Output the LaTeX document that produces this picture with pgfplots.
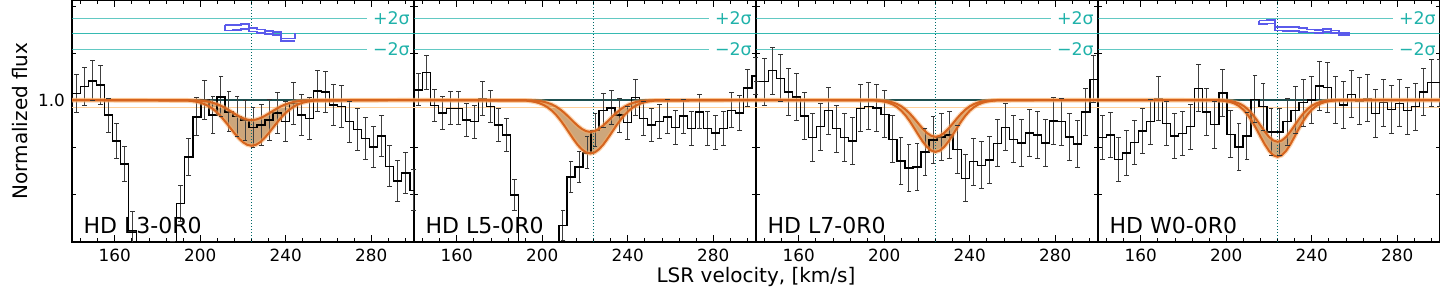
\documentclass[border=0pt]{standalone}
\usepackage{fontspec}
\setmainfont{DejaVu Sans}
\usepackage{pgfplots}
\pgfplotsset{compat=1.18}
\usepackage{pgfplotstable}
\usepgfplotslibrary{fillbetween}

\definecolor{orD}{RGB}{214,100,30}
\definecolor{orL}{RGB}{250,175,105}
\definecolor{tanF}{RGB}{196,150,100}
\definecolor{pale}{RGB}{255,208,155}
\definecolor{tealD}{RGB}{30,80,80}
\definecolor{vlin}{RGB}{0,105,105}
\definecolor{sig}{RGB}{32,178,170}
\definecolor{res}{RGB}{90,90,235}

% ---------- histograms: bin centre, flux, error ----------
\pgfplotstableread{
x y e
138.24 1.028 0
142.00 1.028 0.080
145.76 1.057 0.082
149.52 1.082 0.085
153.28 1.064 0.083
157.04 0.936 0.072
160.80 0.827 0.075
164.56 0.728 0.075
168.32 0.447 0.078
172.08 0.30 0.07
175.84 0.28 0.07
179.60 0.28 0.07
183.36 0.30 0.07
187.12 0.33 0.07
190.88 0.560 0.075
194.64 0.759 0.078
198.40 0.929 0.080
202.16 1.000 0.082
205.92 0.936 0.080
209.68 1.014 0.085
213.44 0.950 0.085
217.20 0.930 0.085
220.96 0.915 0.085
224.72 0.884 0.085
228.48 0.894 0.087
232.24 0.915 0.086
236.00 0.946 0.087
239.76 0.908 0.086
243.52 0.986 0.088
247.28 0.936 0.087
251.04 0.922 0.088
254.80 1.038 0.088
258.56 1.035 0.088
262.32 0.979 0.088
266.08 0.972 0.088
269.84 0.908 0.087
273.60 0.875 0.088
277.36 0.837 0.088
281.12 0.801 0.088
284.88 0.848 0.088
288.64 0.719 0.088
292.40 0.657 0.088
296.16 0.691 0.088
299.92 0.617 0.088
303.68 0.617 0
}\histA

\pgfplotstableread{
x y e
138.24 1.043 0
142.00 1.043 0.068
145.76 1.118 0.072
149.52 0.976 0.068
153.28 0.946 0.070
157.04 0.965 0.070
160.80 0.965 0.070
164.56 0.915 0.070
168.32 0.908 0.070
172.08 1.007 0.072
175.84 0.972 0.068
179.60 0.894 0.070
183.36 0.851 0.070
187.12 0.596 0.067
190.88 0.30 0.065
194.64 0.25 0.065
198.40 0.25 0.065
202.16 0.25 0.065
205.92 0.30 0.065
209.68 0.468 0.064
213.44 0.674 0.066
217.20 0.716 0.066
220.96 0.776 0.068
224.72 0.872 0.070
228.48 0.955 0.072
232.24 0.967 0.072
236.00 0.936 0.072
239.76 0.904 0.070
243.52 1.011 0.075
247.28 0.922 0.072
251.04 0.894 0.072
254.80 0.908 0.072
258.56 0.929 0.072
262.32 0.884 0.072
266.08 0.932 0.072
269.84 0.879 0.072
273.60 0.950 0.072
277.36 0.879 0.072
281.12 0.861 0.072
284.88 0.879 0.072
288.64 0.957 0.075
292.40 0.946 0.075
296.16 1.052 0.078
299.92 1.102 0.078
303.68 1.102 0
}\histB

\pgfplotstableread{
x y e
140.12 1.078 0
143.88 1.078 0.10
147.64 1.125 0.10
151.40 1.092 0.10
155.16 1.035 0.10
158.92 1.014 0.10
162.68 0.932 0.10
166.44 0.841 0.10
170.20 0.887 0.10
173.96 0.955 0.10
177.72 0.879 0.10
181.48 0.841 0.10
185.24 0.827 0.10
189.00 0.965 0.10
192.76 0.974 0.10
196.52 0.967 0.10
200.28 0.940 0.10
204.04 0.833 0.10
207.80 0.742 0.10
211.56 0.712 0.10
215.32 0.716 0.10
219.08 0.780 0.10
222.84 0.830 0.10
226.60 0.844 0.10
230.36 0.851 0.10
234.12 0.790 0.10
237.88 0.667 0.10
241.64 0.738 0.10
245.40 0.723 0.10
249.16 0.745 0.10
252.92 0.816 0.10
256.68 0.884 0.10
260.44 0.833 0.10
264.20 0.818 0.10
267.96 0.861 0.10
271.72 0.851 0.10
275.48 0.818 0.10
279.24 0.912 0.10
283.00 0.908 0.10
286.76 0.844 0.10
290.52 0.813 0.10
294.28 0.950 0.10
298.04 1.088 0.10
301.80 1.120 0
}\histC

\pgfplotstableread{
x y e
138.24 0.841 0
142.00 0.841 0.095
145.76 0.851 0.095
149.52 0.748 0.095
153.28 0.776 0.095
157.04 0.820 0.095
160.80 0.868 0.095
164.56 0.908 0.095
168.32 1.007 0.095
172.08 0.901 0.095
175.84 0.847 0.095
179.60 0.858 0.095
183.36 0.887 0.095
187.12 1.050 0.100
190.88 0.950 0.100
194.64 0.896 0.100
198.40 1.031 0.100
202.16 0.855 0.100
205.92 0.801 0.100
209.68 0.847 0.100
213.44 1.003 0.100
217.20 0.972 0.100
220.96 0.865 0.100
224.72 0.865 0.100
228.48 0.908 0.100
232.24 0.957 0.100
236.00 0.989 0.100
239.76 1.000 0.100
243.52 1.060 0.105
247.28 1.054 0.105
251.04 1.000 0.100
254.80 0.979 0.100
258.56 1.024 0.100
262.32 0.997 0.100
266.08 1.007 0.100
269.84 0.943 0.100
273.60 0.989 0.100
277.36 0.960 0.100
281.12 0.986 0.100
284.88 0.955 0.100
288.64 0.972 0.100
292.40 1.035 0.100
296.16 1.074 0.100
299.92 1.074 0.100
303.68 1.074 0
}\histD

% ---------- model band: velocity, upper, lower ----------
\pgfplotstableread{
x u l
140 1 1
194 .9997 .9978
196 .9993 .9962
198 .9987 .9934
200 .9976 .9891
202 .9957 .9828
204 .9928 .9738
206 .9885 .9616
208 .9825 .9461
210 .9747 .9272
212 .9651 .9056
214 .9542 .8823
216 .9427 .8591
218 .9319 .8380
220 .9230 .8209
222 .9171 .8098
224 .915 .806
226 .9171 .8098
228 .9230 .8209
230 .9319 .8380
232 .9427 .8591
234 .9542 .8823
236 .9651 .9056
238 .9747 .9272
240 .9825 .9461
242 .9885 .9616
244 .9928 .9738
246 .9957 .9828
248 .9976 .9891
250 .9987 .9934
252 .9993 .9962
254 .9997 .9978
300 1 1
}\modA

\pgfplotstableread{
x u l
140 1 1
192.5 .9995 .9975
194.5 .9989 .9955
196.5 .9979 .9923
198.5 .9961 .9873
200.5 .9932 .9798
202.5 .9886 .9693
204.5 .9817 .9551
206.5 .9722 .9369
208.5 .9597 .9148
210.5 .9445 .8895
212.5 .9272 .8623
214.5 .9091 .8352
216.5 .8919 .8104
218.5 .8777 .7905
220.5 .8683 .7775
222.5 .865 .773
224.5 .8683 .7775
226.5 .8777 .7905
228.5 .8919 .8104
230.5 .9091 .8352
232.5 .9272 .8623
234.5 .9445 .8895
236.5 .9597 .9148
238.5 .9722 .9369
240.5 .9817 .9551
242.5 .9886 .9693
244.5 .9932 .9798
246.5 .9961 .9873
248.5 .9979 .9923
250.5 .9989 .9955
252.5 .9995 .9975
300 1 1
}\modB

\pgfplotstableread{
x u l
140 1 1
194 .9997 .9991
196 .9993 .9983
198 .9985 .9966
200 .9971 .9937
202 .9945 .9889
204 .9902 .9814
206 .9834 .9702
208 .9735 .9547
210 .9598 .9344
212 .9424 .9096
214 .9219 .8813
216 .8998 .8518
218 .8784 .8238
220 .8603 .8007
222 .8483 .7854
224 .844 .780
226 .8483 .7854
228 .8603 .8007
230 .8784 .8238
232 .8998 .8518
234 .9219 .8813
236 .9424 .9096
238 .9598 .9344
240 .9735 .9547
242 .9834 .9702
244 .9902 .9814
246 .9945 .9889
248 .9971 .9937
250 .9985 .9966
252 .9993 .9983
254 .9997 .9991
300 1 1
}\modC

\pgfplotstableread{
x u l
140 1 1
194 .9998 .9995
196 .9996 .9989
198 .9991 .9978
200 .9980 .9955
202 .9960 .9915
204 .9922 .9849
206 .9859 .9744
208 .9761 .9590
210 .9617 .9379
212 .9425 .9110
214 .9190 .8794
216 .8926 .8452
218 .8664 .8121
220 .8438 .7843
222 .8285 .7656
224 .823 .759
226 .8285 .7656
228 .8438 .7843
230 .8664 .8121
232 .8926 .8452
234 .9190 .8794
236 .9425 .9110
238 .9617 .9379
240 .9761 .9590
242 .9859 .9744
244 .9922 .9849
246 .9960 .9915
248 .9980 .9955
250 .9991 .9978
252 .9996 .9989
254 .9998 .9995
300 1 1
}\modD

\pgfplotsset{
  panel/.style={
    scale only axis, width=171pt, height=121pt,
    xmin=140, xmax=300, ymin=0.397, ymax=1.4255,
    xtick={160,200,240,280},
    minor xtick={144,152,...,296},
    ytick={1.0}, minor ytick={0.4,0.6,0.8,1.2,1.4},
    yticklabels={},
    tick align=inside,
    xtick pos=both, ytick pos=both,
    xticklabel pos=lower, yticklabel pos=left,
    major tick length=3.5pt, minor tick length=2pt,
    every tick/.style={black, line width=0.5pt},
    every minor tick/.style={black, line width=0.4pt},
    axis line style={black, line width=0.6pt},
    ticklabel style={font=\fontsize{8.4}{10}\selectfont},
    /pgf/number format/assume math mode=true,
  },
  capmark/.style={only marks, mark=-, mark size=1.2pt,
    mark options={draw=black!80, line width=0.5pt}},
}

% #1 histogram table, #2 model table, #3 panel label, #4 path suffix
\newcommand{\panelbody}[4]{%
  \addplot[sig, line width=0.45pt, opacity=0.7] coordinates {(140,1.3477) (278,1.3477)};
  \addplot[sig, line width=0.45pt, opacity=0.9] coordinates {(140,1.282) (300,1.282)};
  \addplot[sig, line width=0.45pt, opacity=0.7] coordinates {(140,1.2157) (278,1.2157)};
  \addplot[vlin, line width=0.5pt, densely dotted] coordinates {(224,0.397) (224,1.4255)};
  \addplot[pale, line width=0.6pt] coordinates {(140,0.968) (300,0.968)};
  \addplot[tealD, line width=0.7pt] coordinates {(140,1) (300,1)};
  \addplot[name path=U#4, draw=none] table[x=x,y=u]{#2};
  \addplot[name path=L#4, draw=none] table[x=x,y=l]{#2};
  \addplot[fill=tanF, fill opacity=0.85, draw=none] fill between[of=U#4 and L#4];
  \addplot[draw=none, mark=none,
    error bars/.cd, y dir=both, y explicit, error mark=none,
    error bar style={draw=black!75, line width=0.5pt}]
    table[x=x, y=y, y error=e]{#1};
  \addplot[capmark] table[x=x, y expr=\thisrow{y}+\thisrow{e}]{#1};
  \addplot[capmark] table[x=x, y expr=\thisrow{y}-\thisrow{e}]{#1};
  \addplot[black, line width=0.7pt, const plot mark left, mark=none]
    table[x expr=\thisrow{x}-1.88, y=y]{#1};
  \addplot[orL, line width=2.2pt, opacity=0.5] table[x=x,y=u]{#2};
  \addplot[orL, line width=2.2pt, opacity=0.5] table[x=x,y=l]{#2};
  \addplot[orD, line width=1pt] table[x=x,y=u]{#2};
  \addplot[orD, line width=1pt] table[x=x,y=l]{#2};
  \node[anchor=east, text=sig, inner sep=0pt, font=\fontsize{8.7}{10}\selectfont]
    at (axis cs:298.2,1.3477) {+2σ};
  \node[anchor=east, text=sig, inner sep=0pt, font=\fontsize{8.7}{10}\selectfont]
    at (axis cs:298.2,1.2157) {−2σ};
  \node[anchor=base west, inner sep=0pt, font=\fontsize{11}{13}\selectfont]
    at (rel axis cs:0.033,0.037) {#3};
}

\begin{document}
\begin{tikzpicture}
\begin{axis}[panel, at={(0pt,0pt)}, anchor=south west, yticklabels={1.0},
  ylabel={Normalized flux},
  ylabel style={at={(axis description cs:-0.1506,0.5)}, anchor=center, rotate=0,
    font=\fontsize{10}{12}\selectfont}]
  \panelbody{\histA}{\modA}{HD L3-0R0}{a}
  \addplot[res, line width=0.9pt, const plot mark left] coordinates {
    (211.56,1.318) (215.32,1.320) (219.08,1.324) (222.84,1.306) (226.6,1.300)
    (230.36,1.293) (234.12,1.290) (237.88,1.262) (244.3,1.262) (244.3,1.287)};
  \addplot[res, line width=0.9pt, const plot mark left] coordinates {
    (211.56,1.318) (211.56,1.296) (215.32,1.298) (219.08,1.302) (222.84,1.292) (226.6,1.286)
    (230.36,1.282) (234.12,1.278) (237.88,1.252) (244.3,1.252)};
\end{axis}
\begin{axis}[panel, at={(171pt,0pt)}, anchor=south west,
  xlabel={LSR velocity, [km/s]},
  xlabel style={at={(axis description cs:1,0)}, anchor=base, yshift=-20.5pt,
    inner sep=0pt, font=\fontsize{10}{12}\selectfont}]
  \panelbody{\histB}{\modB}{HD L5-0R0}{b}
\end{axis}
\begin{axis}[panel, at={(342pt,0pt)}, anchor=south west]
  \panelbody{\histC}{\modC}{HD L7-0R0}{c}
\end{axis}
\begin{axis}[panel, at={(513pt,0pt)}, anchor=south west]
  \panelbody{\histD}{\modD}{HD W0-0R0}{d}
  \addplot[res, line width=0.9pt, const plot mark left] coordinates {
    (215.32,1.338) (219.08,1.340) (222.84,1.312) (226.6,1.312) (230.36,1.310)
    (234.12,1.306) (237.88,1.300) (241.64,1.298) (245.4,1.302) (249.16,1.296)
    (252.92,1.284) (258,1.284)};
  \addplot[res, line width=0.9pt, const plot mark left] coordinates {
    (215.32,1.338) (215.32,1.322) (219.08,1.326) (222.84,1.296) (226.6,1.295) (230.36,1.294)
    (234.12,1.290) (237.88,1.287) (241.64,1.285) (245.4,1.290) (249.16,1.286)
    (252.92,1.277) (258,1.277)};
\end{axis}
\pgfresetboundingbox
\path[use as bounding box] (-36pt,-23pt) rectangle (684pt,121pt);
\end{tikzpicture}
\end{document}
